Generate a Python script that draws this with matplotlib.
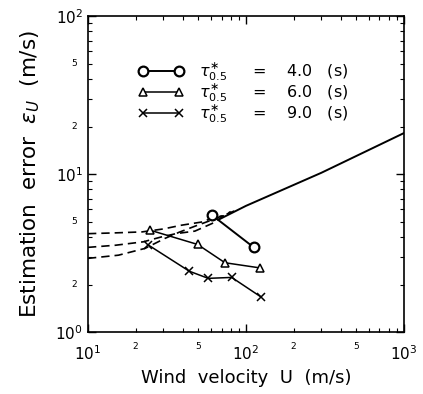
import numpy as np
from matplotlib import pyplot as plt
from matplotlib.ticker import LogLocator, NullFormatter

# solid asymptote
u_solid = [67, 100, 300, 1000]
e_solid = [5.15, 6.3, 10.2, 18.2]

# dashed curves
u_dash_a = [10, 15, 22, 30, 39, 54, 61, 72]
e_dash_a = [4.2, 4.25, 4.31, 4.5, 4.75, 5.0, 5.3, 5.45]
u_dash_b = [10, 15, 22.4, 29, 36, 47.5, 61, 80]
e_dash_b = [3.44, 3.55, 3.73, 4.0, 4.2, 4.36, 4.87, 5.8]
u_dash_c = [10, 15.6, 23, 30.7, 38, 48, 60, 90]
e_dash_c = [2.93, 3.07, 3.39, 3.92, 4.3, 4.7, 5.1, 6.0]

# tau = 4.0 s
u_circ = [61, 112]
e_circ = [5.5, 3.44]
# tau = 6.0 s
u_tri = [24.7, 49.4, 73.6, 122.7]
e_tri = [4.42, 3.59, 2.75, 2.55]
# tau = 9.0 s
u_x = [24.1, 43.8, 57.7, 81.2, 124.5]
e_x = [3.56, 2.43, 2.19, 2.22, 1.67]

labels = [r"$\tau_{0.5}^{\ast}$     =    4.0   (s)",
          r"$\tau_{0.5}^{\ast}$     =    6.0   (s)",
          r"$\tau_{0.5}^{\ast}$     =    9.0   (s)"]

fig = plt.figure(figsize=(4.23, 3.94), dpi=100)
ax = fig.add_axes([0.208, 0.157, 0.747, 0.802])

ax.plot(u_solid, e_solid, c="black", lw=1.4)
for u, e in [(u_dash_a, e_dash_a), (u_dash_b, e_dash_b), (u_dash_c, e_dash_c)]:
    ax.plot(u, e, c="black", lw=1.2, ls=(0, (5, 3)))

h1, = ax.plot(u_circ, e_circ, c="black", lw=1.4, marker="o", ms=7, mfc="white", mew=1.6)
h2, = ax.plot(u_tri, e_tri, c="black", lw=1.1, marker="^", ms=6, mfc="white", mew=1.1)
h3, = ax.plot(u_x, e_x, c="black", lw=1.1, marker="x", ms=6, mew=1.1)

ax.set_xscale("log")
ax.set_yscale("log")
ax.set_xlim(10, 1000)
ax.set_ylim(1, 100)

ax.legend([h1, h2, h3], labels, loc="upper left", bbox_to_anchor=(0.115, 0.905),
          frameon=False, numpoints=2, handlelength=2.8, handletextpad=1.0,
          labelspacing=-0.1, fontsize=11.5)

for axis in [ax.xaxis, ax.yaxis]:
    axis.set_major_locator(LogLocator(base=10))
    axis.set_minor_locator(LogLocator(base=10, subs=np.arange(2, 10)))
ax.xaxis.set_minor_formatter(NullFormatter())
ax.yaxis.set_minor_formatter(NullFormatter())

ax.tick_params(which="both", direction="in", top=True, right=True)
ax.tick_params(which="major", length=6, width=1.0, labelsize=11)
ax.tick_params(which="minor", length=3, width=0.8)
ax.tick_params(axis="x", which="major", pad=9)

# small "2" and "5" labels under the minor ticks
for dec in [10, 100]:
    for m in [2, 5]:
        ax.text(m * dec, -0.03, str(m), transform=ax.get_xaxis_transform(),
                ha="center", va="top", fontsize=6.5)
for dec in [1, 10]:
    for m in [2, 5]:
        ax.text(-0.035, m * dec, str(m), transform=ax.get_yaxis_transform(),
                ha="right", va="center", fontsize=6.5)

for s in ax.spines.values():
    s.set_linewidth(1.2)

ax.set_xlabel("Wind  velocity  U  (m/s)", fontsize=13)
ax.set_ylabel(r"Estimation  error  $\varepsilon_U$  (m/s)", fontsize=15.5, labelpad=10)

fig.savefig("out.png", dpi=100)
